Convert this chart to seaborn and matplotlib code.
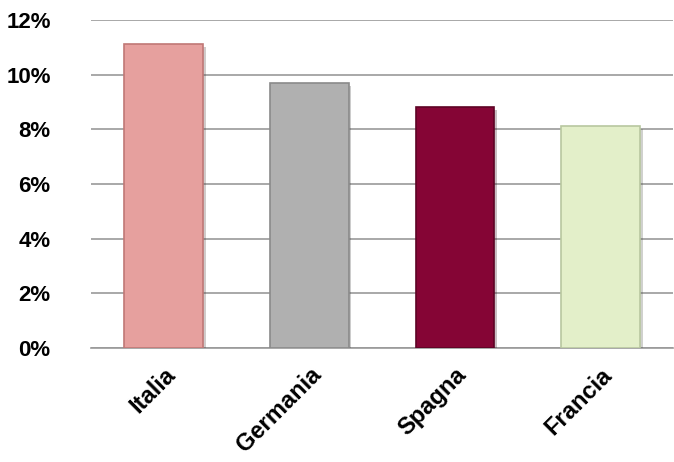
import pandas as pd
import matplotlib.pyplot as plt
import matplotlib.patheffects as pe
import numpy as np
import seaborn as sns

# dati
paesi = ["Italia", "Germania", "Spagna", "Francia"]
valori = [11.1, 9.7, 8.8, 8.1]
colori = ["#E6A09E", "#B0B0B0", "#850535", "#E3EFC9"]
bordi = ["#C07876", "#8A8A8A", "#5E0325", "#B8C7A0"]
tacche_y = [0, 2, 4, 6, 8, 10, 12]

sns.set_style("white")
plt.rcParams['font.family'] = ['Liberation Sans', 'DejaVu Sans']

df = pd.DataFrame({"paese": paesi, "valore": valori})

fig = plt.figure(figsize=(6.74, 4.62), dpi=100)
ax = fig.add_axes([0.135, 0.247, 0.864, 0.71])

sns.barplot(data=df, x="paese", y="valore", hue="paese", palette=colori,
            saturation=1, width=0.54, legend=False, ax=ax, zorder=3)

for barra, bordo in zip(ax.patches, bordi):
    barra.set_edgecolor(bordo)
    barra.set_linewidth(1.2)
    barra.set_path_effects([pe.SimplePatchShadow(offset=(2, -2), alpha=0.25), pe.Normal()])

ax.set_ylim(0, 12)
ax.set_xlim(-0.5, 3.5)
ax.set_yticks(tacche_y)
ax.set_yticklabels([f"{t}%" for t in tacche_y], fontsize=16, fontweight="bold", color="black")
ax.yaxis.grid(True, color="#999999", linewidth=1.2, zorder=0)
ax.set_axisbelow(True)

# tacche tra le categorie
ax.set_xticks(np.arange(-0.5, 4, 1), minor=True)
ax.tick_params(axis="x", which="minor", length=6, width=1.2, color="#999999", direction="out")
ax.tick_params(axis="x", which="major", length=0, pad=11)
ax.tick_params(axis="y", length=0, pad=29)
ax.set_xticks(range(len(paesi)))
ax.set_xticklabels(paesi, rotation=45, ha="right", rotation_mode="anchor",
                   fontsize=17, fontweight="bold", color="black")

for lato in ["left", "right", "top"]:
    ax.spines[lato].set_visible(False)
ax.spines["bottom"].set_color("#999999")
ax.spines["bottom"].set_linewidth(1.2)

ax.set_xlabel("")
ax.set_ylabel("")

plt.savefig("out.png", dpi=100)
